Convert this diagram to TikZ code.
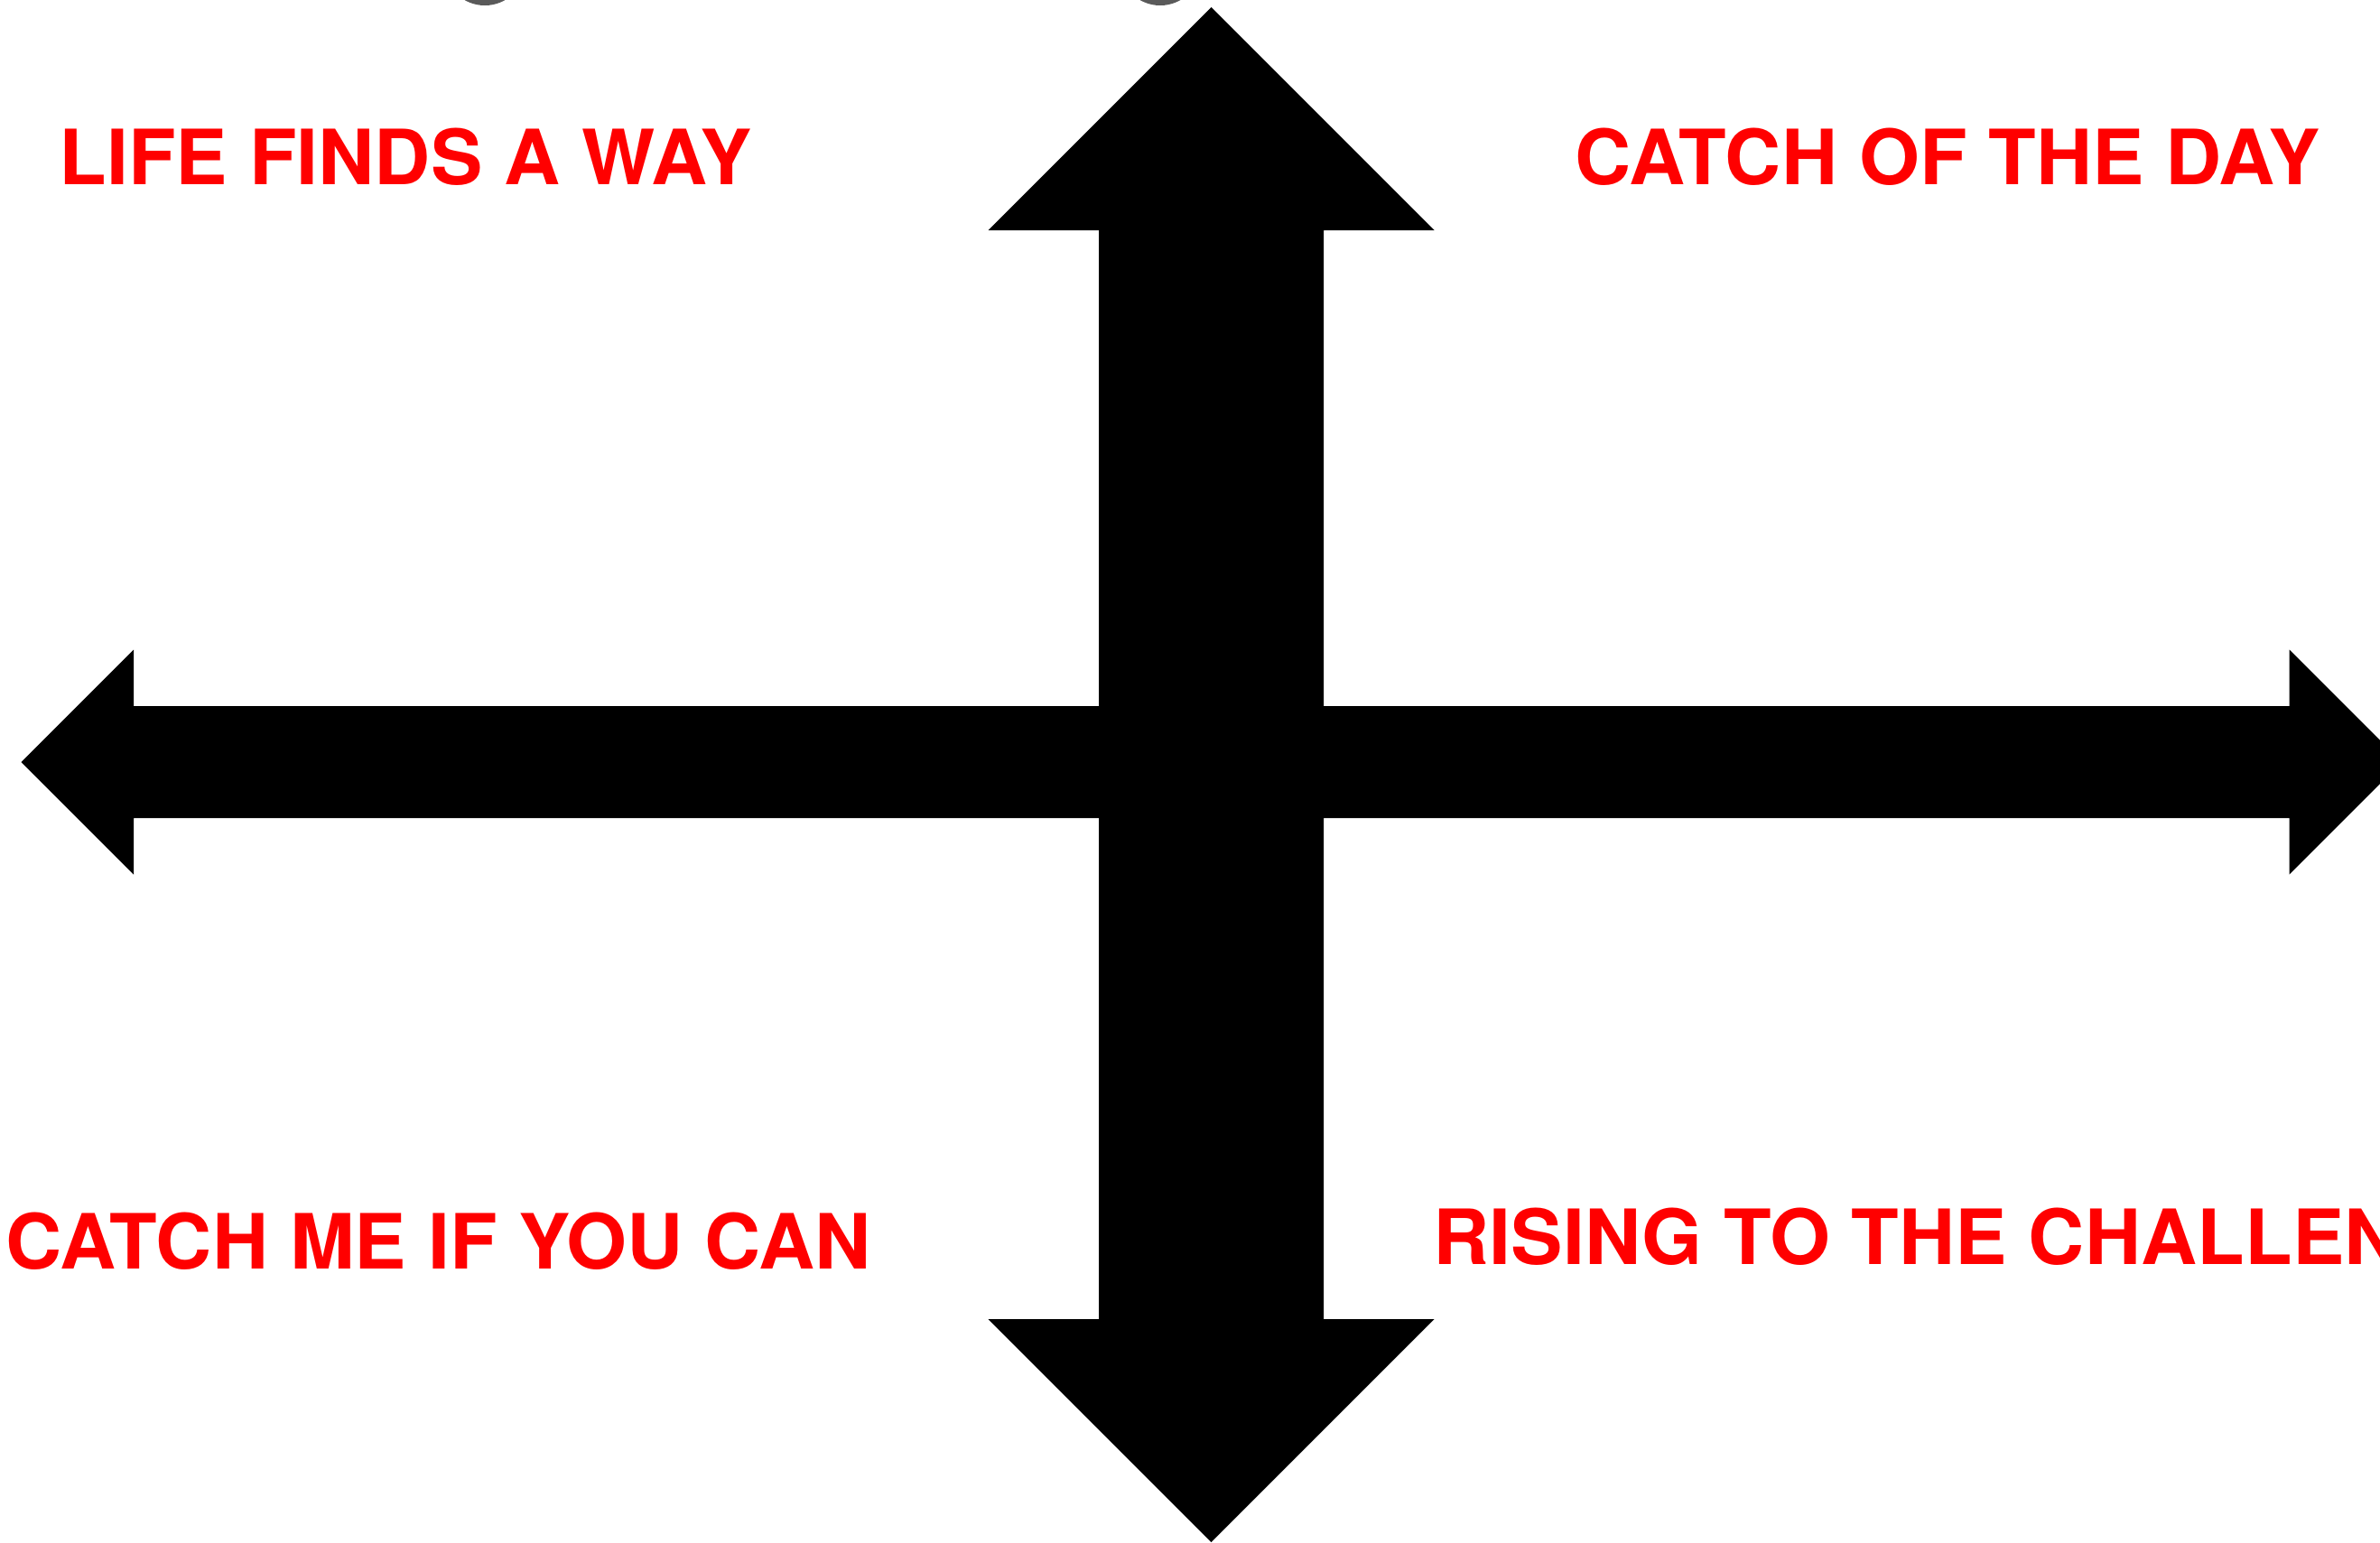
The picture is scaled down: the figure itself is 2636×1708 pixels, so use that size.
\documentclass[tikz,border=0pt]{standalone}
\usepackage{fontspec}
\setmainfont{TeX Gyre Heros}
\usepackage{xcolor}
\usepackage{tikz}
\definecolor{rojolabel}{RGB}{255, 0, 0}
\definecolor{grisdot}{RGB}{90, 90, 90}

\begin{document}
\begin{tikzpicture}[
    x=0.01cm, y=-0.01cm,
    quad/.style={anchor=base west, inner sep=0pt, text=rojolabel, font=\fontsize{24}{28}\selectfont\bfseries, xscale=1.02},
    flecha/.style={fill=black, draw=none},
    dot/.style={fill=grisdot, draw=none}
]
\useasboundingbox (0,0) rectangle (2636,1708);
\clip (0,0) rectangle (2636,1708);

% bits cut off at the top
\fill[dot] (537,-39) circle[radius=45];
\fill[dot] (1285,-39) circle[radius=45];

% vertical double arrow
\fill[flecha] (1341.5,8) -- (1588.5,255) -- (1466,255) -- (1466,1461) -- (1588.5,1461)
    -- (1341.5,1708) -- (1094.5,1461) -- (1217,1461) -- (1217,255) -- (1094.5,255) -- cycle;

% horizontal double arrow
\fill[flecha] (23.5,844) -- (148,719.5) -- (148,782) -- (2535.5,782) -- (2535.5,719.5)
    -- (2660,844) -- (2535.5,968.5) -- (2535.5,906) -- (148,906) -- (148,968.5) -- cycle;

\node[quad] (tl) at (65,204) {LIFE FINDS A WAY};
\node[quad] (tr) at (1744,204) {CATCH OF THE DAY};
\node[quad] (bl) at (6,1405) {CATCH ME IF YOU CAN};
\node[quad] (br) at (1587,1400.5) {RISING TO THE CHALLENGE};
\end{tikzpicture}
\end{document}
